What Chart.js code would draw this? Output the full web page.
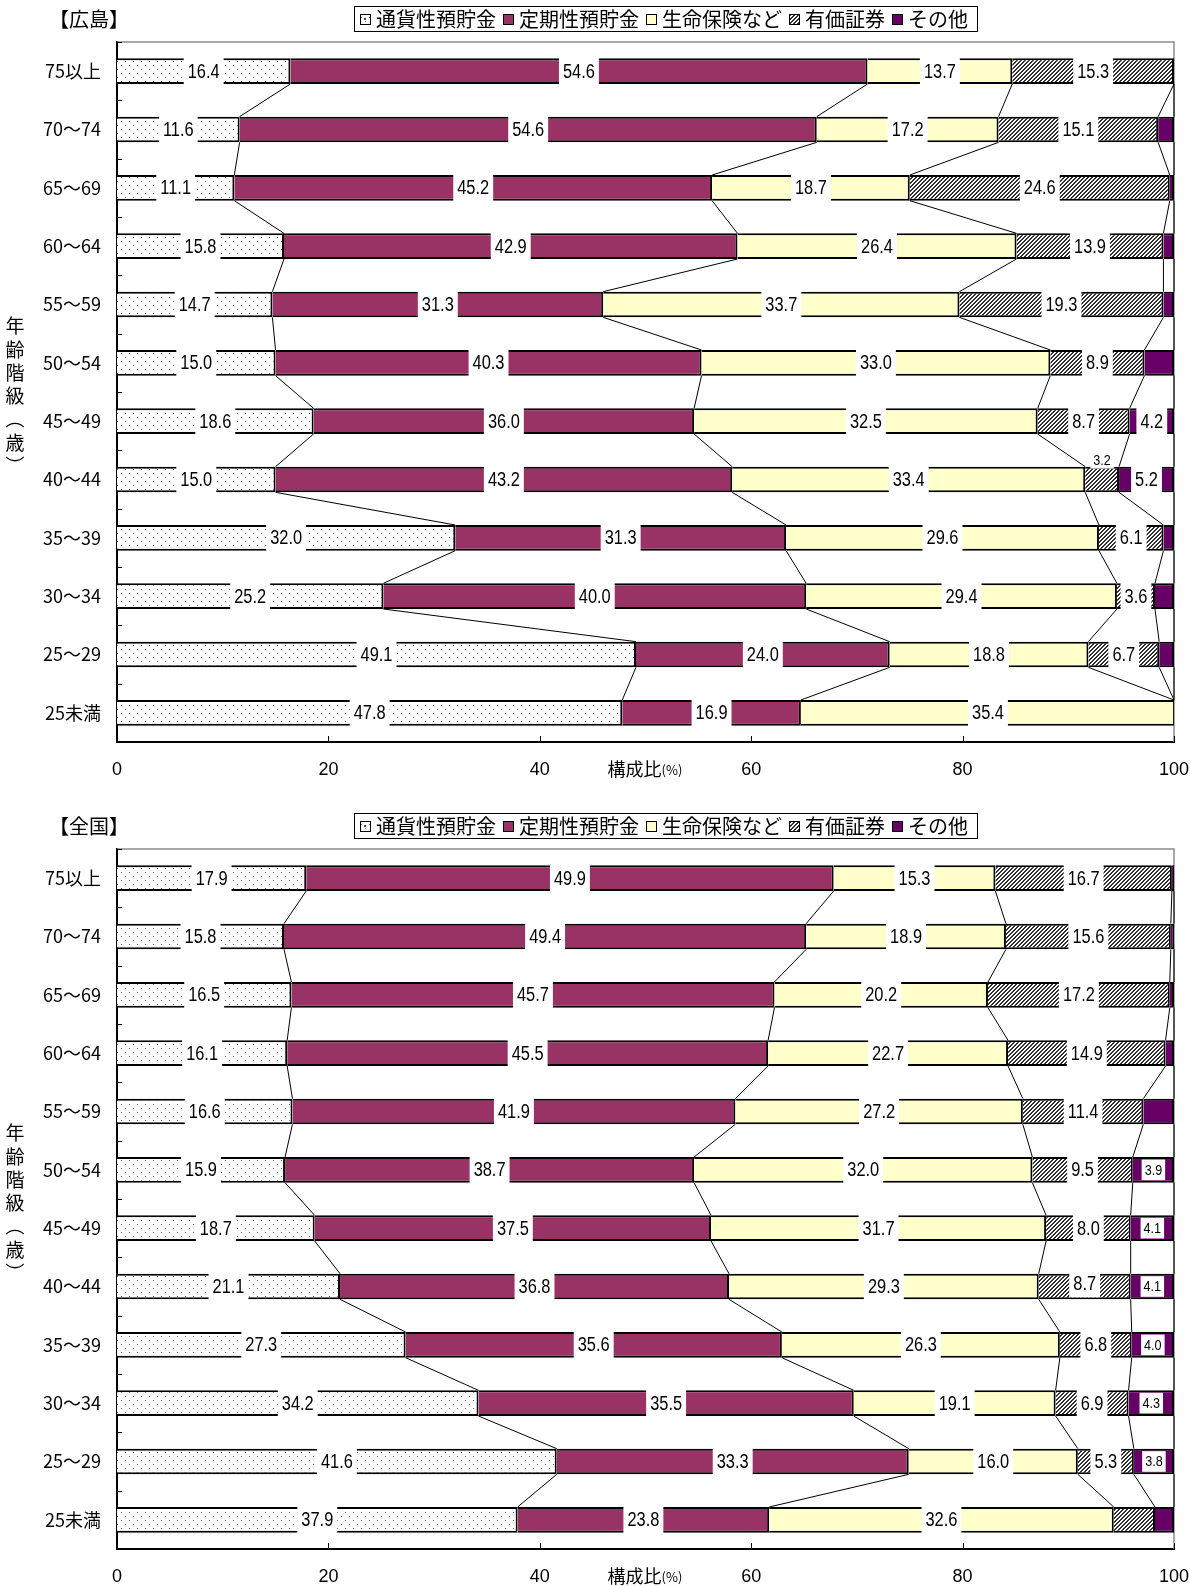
<!DOCTYPE html>
<html lang="ja">
<head>
<meta charset="utf-8">
<title>年齢階級別 貯蓄の種類別構成比</title>
<script src="https://cdn.jsdelivr.net/npm/chart.js@4.4.0/dist/chart.umd.min.js"></script>
<style>
  body { margin: 0; background: #fff; overflow: hidden; }
  .panel { width: 1190px; height: 807px; }
  canvas { display: block; }
</style>
</head>
<body>
<div class="panel"><canvas id="hiroshima" width="1190" height="807"></canvas></div>
<div class="panel"><canvas id="zenkoku" width="1190" height="807"></canvas></div>
<script>
//categories (top to bottom)
const ageGroups = ["75以上", "70〜74", "65〜69", "60〜64", "55〜59", "50〜54", "45〜49", "40〜44", "35〜39", "30〜34", "25〜29", "25未満"];
const seriesNames = ["通貨性預貯金", "定期性預貯金", "生命保険など", "有価証券", "その他"];
const xTicks = [0, 20, 40, 60, 80, 100];

//広島
const hiroshimaDemand = [16.4, 11.6, 11.1, 15.8, 14.7, 15.0, 18.6, 15.0, 32.0, 25.2, 49.1, 47.8];
const hiroshimaTime = [54.6, 54.6, 45.2, 42.9, 31.3, 40.3, 36.0, 43.2, 31.3, 40.0, 24.0, 16.9];
const hiroshimaInsurance = [13.7, 17.2, 18.7, 26.4, 33.7, 33.0, 32.5, 33.4, 29.6, 29.4, 18.8, 35.4];
const hiroshimaSecurities = [15.3, 15.1, 24.6, 13.9, 19.3, 8.9, 8.7, 3.2, 6.1, 3.6, 6.7, 0];
const hiroshimaOther = [0, 1.5, 0.4, 1.0, 1.0, 2.8, 4.2, 5.2, 1.0, 1.8, 1.4, 0];

//全国
const zenkokuDemand = [17.9, 15.8, 16.5, 16.1, 16.6, 15.9, 18.7, 21.1, 27.3, 34.2, 41.6, 37.9];
const zenkokuTime = [49.9, 49.4, 45.7, 45.5, 41.9, 38.7, 37.5, 36.8, 35.6, 35.5, 33.3, 23.8];
const zenkokuInsurance = [15.3, 18.9, 20.2, 22.7, 27.2, 32.0, 31.7, 29.3, 26.3, 19.1, 16.0, 32.6];
const zenkokuSecurities = [16.7, 15.6, 17.2, 14.9, 11.4, 9.5, 8.0, 8.7, 6.8, 6.9, 5.3, 3.9];
const zenkokuOther = [0.2, 0.3, 0.4, 0.8, 2.9, 3.9, 4.1, 4.1, 4.0, 4.3, 3.8, 1.8];

const jpFont = '"Noto Sans CJK JP", sans-serif';
const numFont = '"Liberation Sans", "Noto Sans", sans-serif';

//fill patterns like the excel ones
function makePattern(draw) {
  const c = document.createElement("canvas");
  c.width = 8;
  c.height = 8;
  const g = c.getContext("2d");
  g.fillStyle = "#fff";
  g.fillRect(0, 0, 8, 8);
  draw(g);
  return g.createPattern(c, "repeat");
}
const dotPattern = makePattern((g) => {
  g.fillStyle = "#707070";
  g.fillRect(1, 1, 1, 1);
  g.fillRect(5, 5, 1, 1);
});
const hatchPattern = makePattern((g) => {
  g.fillStyle = "#303030";
  for (let y = 0; y < 8; y++) {
    for (let x = 0; x < 8; x++) {
      if ((x + y) % 4 < 2) g.fillRect(x, y, 1, 1);
    }
  }
});
const seriesFills = [dotPattern, "#993366", "#ffffcc", hatchPattern, "#660066"];

//numbers in the picture are narrow, squeeze them a little
function narrowText(ctx, text, x, y, squeeze) {
  ctx.save();
  ctx.translate(x, y);
  ctx.scale(squeeze, 1);
  ctx.fillText(text, 0, 0);
  ctx.restore();
}

//gray frame + inner tick marks
const frame = {
  id: "frame",
  beforeDatasetsDraw(chart) {
    const { ctx, chartArea: a } = chart;
    ctx.save();
    ctx.strokeStyle = "#8c8c8c";
    ctx.lineWidth = 1.5;
    ctx.beginPath();
    ctx.moveTo(a.left, a.top);
    ctx.lineTo(a.right, a.top);
    ctx.lineTo(a.right, a.bottom);
    ctx.stroke();
    ctx.restore();
  },
  afterDraw(chart) {
    const { ctx, chartArea: a, scales } = chart;
    ctx.save();
    ctx.strokeStyle = "#000";
    ctx.lineWidth = 1;
    ctx.beginPath();
    const step = (a.bottom - a.top) / ageGroups.length;
    for (let i = 0; i <= ageGroups.length; i++) {
      const y = Math.round(a.top + i * step) + 0.5;
      ctx.moveTo(a.left, y);
      ctx.lineTo(a.left + 5, y);
    }
    xTicks.forEach((t) => {
      const x = Math.round(scales.x.getPixelForValue(t)) + 0.5;
      ctx.moveTo(x, a.bottom);
      ctx.lineTo(x, a.bottom - 6);
    });
    ctx.stroke();
    ctx.restore();
  },
};

//series lines between bars and the value labels
const barText = {
  id: "barText",
  afterDatasetsDraw(chart, args, opts) {
    const { ctx, chartArea: a } = chart;
    ctx.save();
    //series lines
    ctx.strokeStyle = "#000";
    ctx.lineWidth = 1;
    chart.data.datasets.forEach((ds, di) => {
      const bars = chart.getDatasetMeta(di).data;
      ctx.beginPath();
      for (let i = 0; i < bars.length - 1; i++) {
        const p = bars[i].getProps(["x", "y", "height"], true);
        const q = bars[i + 1].getProps(["x", "y", "height"], true);
        ctx.moveTo(Math.min(p.x, a.right), p.y + p.height / 2);
        ctx.lineTo(Math.min(q.x, a.right), q.y - q.height / 2);
      }
      ctx.stroke();
    });
    //labels
    ctx.textAlign = "center";
    ctx.textBaseline = "middle";
    chart.data.datasets.forEach((ds, di) => {
      const bars = chart.getDatasetMeta(di).data;
      bars.forEach((bar, i) => {
        const v = ds.data[i];
        if (v < 3) return;
        if (opts.hidden.some((h) => h[0] === di && h[1] === i)) return;
        const shift = opts.shifts.find((s) => s.series === di && s.index === i);
        const p = bar.getProps(["x", "y", "base", "height"], true);
        const cx = (p.x + p.base) / 2;
        const cy = p.y + (shift ? shift.dy : 0);
        const small = opts.smallSeries.includes(di) || (shift && shift.small);
        const text = v.toFixed(1);
        const squeeze = small ? 0.9 : 0.82;
        ctx.font = (small ? 14 : 20) + "px " + numFont;
        const tw = ctx.measureText(text).width * squeeze;
        let bw, bh;
        if (small) {
          bw = tw + 6;
          bh = shift ? 16 : p.height - 5;
        } else {
          bw = tw + 8;
          bh = p.height + 2;
        }
        ctx.fillStyle = "#fff";
        ctx.fillRect(cx - bw / 2, cy - bh / 2, bw, bh);
        ctx.fillStyle = "#000";
        narrowText(ctx, text, cx, cy + 1, squeeze);
      });
    });
    ctx.restore();
  },
};

//title, legend and axis titles
const decorations = {
  id: "decorations",
  afterDraw(chart, args, opts) {
    const { ctx, chartArea: a } = chart;
    ctx.save();
    ctx.fillStyle = "#000";
    ctx.textBaseline = "middle";
    //panel title
    ctx.font = "20px " + jpFont;
    ctx.textAlign = "center";
    ctx.fillText(opts.title, 89, 19);

    //legend
    ctx.font = "20px " + jpFont;
    ctx.textAlign = "left";
    let x = 360;
    const ly = 19;
    seriesNames.forEach((name, k) => {
      ctx.fillStyle = seriesFills[k];
      ctx.fillRect(x, ly - 5, 10, 10);
      if (k === 0) {
        ctx.fillStyle = "#404040";
        ctx.fillRect(x + 4, ly - 1, 2, 2);
      }
      ctx.strokeStyle = "#000";
      ctx.lineWidth = 1;
      ctx.strokeRect(x + 0.5, ly - 4.5, 10, 10);
      x += 16;
      ctx.fillStyle = "#000";
      ctx.fillText(name, x, ly);
      x += ctx.measureText(name).width + 7;
    });
    ctx.strokeStyle = "#000";
    ctx.strokeRect(354.5, 6.5, x - 352, 25);

    //x axis title
    ctx.font = "18px " + jpFont;
    const w1 = ctx.measureText("構成比").width;
    ctx.font = "13px " + jpFont;
    const w2 = ctx.measureText("(%)").width;
    const tx = 645 - (w1 + w2) / 2;
    const ty = a.bottom + 27;
    ctx.font = "18px " + jpFont;
    ctx.fillText("構成比", tx, ty);
    ctx.font = "13px " + jpFont;
    ctx.fillText("(%)", tx + w1, ty + 1);

    //y axis title, vertical
    ctx.font = "19px " + jpFont;
    ctx.textAlign = "center";
    ["年", "齢", "階", "級", "︵", "歳", "︶"].forEach((ch, k) => {
      ctx.fillText(ch, 15, 326 + k * 23.3);
    });
    ctx.restore();
  },
};

function makeChart(id, title, values, labelOpts) {
  return new Chart(document.getElementById(id), {
    type: "bar",
    data: {
      labels: ageGroups,
      datasets: seriesNames.map((name, k) => ({
        label: name,
        data: values[k],
        backgroundColor: seriesFills[k],
        borderColor: "#000",
        borderWidth: 2,
        categoryPercentage: 1,
        barPercentage: 0.44,
      })),
    },
    options: {
      indexAxis: "y",
      responsive: false,
      animation: false,
      devicePixelRatio: 1,
      layout: { padding: { top: 42, right: 16, left: 0, bottom: 0 } },
      scales: {
        x: {
          stacked: true,
          min: 0,
          max: 100,
          //fixed height, and no extra room for the "100" label
          afterFit: (s) => {
            s.height = 65;
            s.paddingLeft = 0;
            s.paddingRight = 0;
          },
          afterBuildTicks: (s) => { s.ticks = xTicks.map((v) => ({ value: v })); },
          grid: { display: false, drawTicks: false },
          border: { display: true, color: "#000", width: 2 },
          ticks: { color: "#000", padding: 17, font: { family: numFont, size: 18 } },
        },
        y: {
          stacked: true,
          afterFit: (s) => {
            s.width = 117;
            s.paddingTop = 0;
            s.paddingBottom = 0;
          },
          grid: { display: false, drawTicks: false },
          border: { display: true, color: "#000", width: 2 },
          ticks: { color: "#000", padding: 16, font: { family: jpFont, size: 18 } },
        },
      },
      plugins: {
        legend: { display: false },
        tooltip: { enabled: false },
        barText: labelOpts,
        decorations: { title: title },
      },
    },
    plugins: [frame, barText, decorations],
  });
}

makeChart("hiroshima", "【広島】",
  [hiroshimaDemand, hiroshimaTime, hiroshimaInsurance, hiroshimaSecurities, hiroshimaOther],
  { smallSeries: [], hidden: [], shifts: [{ series: 3, index: 7, dy: -19, small: true }] });

makeChart("zenkoku", "【全国】",
  [zenkokuDemand, zenkokuTime, zenkokuInsurance, zenkokuSecurities, zenkokuOther],
  { smallSeries: [4], hidden: [[3, 11]], shifts: [{ series: 3, index: 7, dy: -3 }] });
</script>
</body>
</html>
